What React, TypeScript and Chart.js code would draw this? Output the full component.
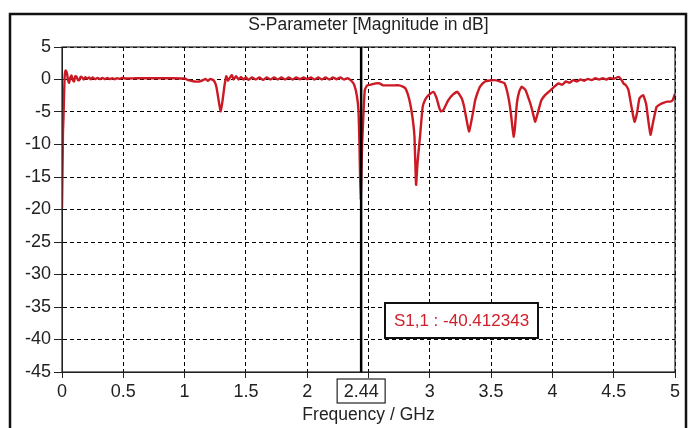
import React, { useEffect, useRef } from "react";
import { Chart, registerables } from "chart.js";

Chart.register(...registerables);

const chartTitle = "S-Parameter [Magnitude in dB]";
const xAxisTitle = "Frequency / GHz";
const markerFreq = 2.44;
const markerTickLabel = "2.44";
const markerValueLabel = "S1,1 : -40.412343";

const freqGHz = [
  0, 0.004, 0.008, 0.012, 0.016, 0.022, 0.03, 0.04, 0.05, 0.058, 0.068, 0.078, 0.088, 0.098, 0.108, 0.12, 0.13,
  0.14, 0.152, 0.165, 0.176, 0.19, 0.205, 0.22, 0.235, 0.25, 0.27, 0.29, 0.31, 0.33, 0.35, 0.37, 0.39, 0.41,
  0.43, 0.45, 0.47, 0.49, 0.52, 0.6, 0.7, 0.8, 0.9, 1.0, 1.03, 1.08, 1.12, 1.15, 1.17, 1.19, 1.21, 1.24, 1.26,
  1.28, 1.295, 1.31, 1.325, 1.34, 1.355, 1.37, 1.385, 1.4, 1.42, 1.44, 1.46, 1.48, 1.5, 1.52, 1.55, 1.58, 1.61,
  1.64, 1.67, 1.7, 1.73, 1.76, 1.79, 1.82, 1.85, 1.88, 1.91, 1.94, 1.97, 2.0, 2.03, 2.06, 2.09, 2.12, 2.15,
  2.18, 2.21, 2.24, 2.27, 2.3, 2.33, 2.36, 2.385, 2.405, 2.418, 2.426, 2.436, 2.448, 2.458, 2.47, 2.49, 2.52,
  2.56, 2.59, 2.62, 2.66, 2.7, 2.75, 2.78, 2.8, 2.82, 2.84, 2.86, 2.875, 2.888, 2.9, 2.92, 2.942, 2.965, 2.99,
  3.03, 3.056, 3.075, 3.09, 3.11, 3.15, 3.19, 3.225, 3.26, 3.28, 3.295, 3.32, 3.336, 3.355, 3.37, 3.39, 3.41,
  3.45, 3.49, 3.53, 3.57, 3.61, 3.64, 3.66, 3.675, 3.685, 3.695, 3.71, 3.73, 3.75, 3.78, 3.8, 3.825, 3.845,
  3.86, 3.88, 3.91, 3.94, 3.97, 4.01, 4.05, 4.08, 4.11, 4.14, 4.17, 4.2, 4.23, 4.26, 4.29, 4.32, 4.35, 4.38,
  4.41, 4.44, 4.47, 4.5, 4.54, 4.565, 4.58, 4.6, 4.62, 4.645, 4.67, 4.69, 4.71, 4.74, 4.765, 4.78, 4.8, 4.82,
  4.85, 4.88, 4.905, 4.935, 4.96, 4.98, 5.0,
];

const s11dB = [
  -19.8, -14, -8, -6, -3, 0.5, 1.4, 1.0, -0.2, -0.5, 0.3, 0.6, -0.1, -0.3, 0.5, 0.4, -0.1,
  -0.1, 0.4, 0.3, 0.0, 0.35, 0.1, 0.3, 0.05, 0.3, 0.05, 0.25, 0.05, 0.25, 0.05, 0.25, 0.05, 0.2,
  0.05, 0.2, 0.1, 0.25, 0.15, 0.2, 0.2, 0.2, 0.2, 0.15, -0.1, -0.3, -0.3, -0.1, 0.1, -0.2, 0.1, -0.2, -1.2,
  -3.5, -4.9, -3.2, -1.0, 0.5, -0.2, 0.3, 0.7, 0.0, 0.5, 0.0, 0.4, 0.0, 0.35, -0.05, 0.3, 0.0, 0.3,
  -0.05, 0.3, 0.0, 0.3, 0.0, 0.3, 0.0, 0.3, 0.0, 0.3, 0.05, 0.3, 0.05, 0.3, 0.0, 0.3, 0.0, 0.3,
  0.0, 0.3, 0.05, 0.3, 0.0, 0.2, -0.2, -0.9, -2.5, -4.7, -9.8, -18.5, -10, -5.7, -1.6, -0.9, -0.8,
  -0.6, -0.6, -0.9, -0.9, -0.9, -0.9, -1.1, -1.35, -2.2, -3.7, -6.0, -8.8, -16.2, -12.8, -8.8, -4.2, -3.0, -2.4,
  -1.9, -2.9, -4.2, -4.9, -4.7, -3.2, -2.3, -1.9, -2.9, -4.2, -5.7, -8.0, -6.7, -4.8, -3.2, -2.0, -1.1,
  -0.3, -0.15, -0.1, -0.3, -0.6, -2.6, -5.0, -7.5, -8.8, -7.3, -3.7, -1.8, -1.1, -1.6, -2.6, -4.0, -5.5,
  -6.5, -5.2, -3.2, -2.4, -1.9, -1.2, -0.6, -0.8, -0.3, -0.5, -0.1, -0.3, 0.0, -0.2, 0.1, -0.1, 0.2, 0.0,
  0.2, 0.0, 0.25, 0.1, 0.4, -0.1, -0.6, -0.9, -1.6, -4.2, -6.5, -5.2, -2.9, -2.4, -3.8, -6.0, -8.5, -6.7,
  -4.2, -3.8, -3.6, -3.4, -3.4, -3.2, -2.2,
];

const xMin = 0;
const xMax = 5;
const xStep = 0.5;
const yMin = -45;
const yMax = 5;
const yStep = 5;

const FONT = "'Liberation Sans', Arial, sans-serif";

const decorations = {
  id: "decorations",
  afterDraw(chart: any) {
    const { ctx, chartArea } = chart;
    const xs = chart.scales.x;
    const { left, right, top, bottom } = chartArea;
    ctx.save();

    // outer frame
    ctx.strokeStyle = "#111";
    ctx.lineWidth = 2.5;
    ctx.strokeRect(10, 14, 676, 430);

    // plot border
    ctx.lineWidth = 1.2;
    ctx.strokeStyle = "#222";
    ctx.strokeRect(left, top, right - left, bottom - top);

    // title
    ctx.fillStyle = "#222";
    ctx.font = `17.5px ${FONT}`;
    ctx.textAlign = "center";
    ctx.textBaseline = "middle";
    ctx.fillText(chartTitle, (left + right) / 2, 25);

    // x axis title
    ctx.fillText(xAxisTitle, (left + right) / 2, 415);

    // marker line
    const mx = xs.getPixelForValue(markerFreq);
    ctx.strokeStyle = "#000";
    ctx.lineWidth = 2.5;
    ctx.beginPath();
    ctx.moveTo(mx, top);
    ctx.lineTo(mx, bottom);
    ctx.stroke();

    // marker tick label box
    ctx.font = `18px ${FONT}`;
    const bw = 48;
    const bh = 24;
    const bx = mx - 24;
    const by = 379;
    ctx.fillStyle = "#fff";
    ctx.fillRect(bx, by, bw, bh);
    ctx.lineWidth = 1.2;
    ctx.strokeStyle = "#222";
    ctx.strokeRect(bx, by, bw, bh);
    ctx.fillStyle = "#222";
    ctx.fillText(markerTickLabel, bx + bw / 2, by + bh / 2 + 1);

    // marker value box
    const vx = 385;
    const vy = 303;
    const vw = 153;
    const vh = 35;
    ctx.fillStyle = "#fff";
    ctx.fillRect(vx, vy, vw, vh);
    ctx.lineWidth = 2;
    ctx.strokeStyle = "#111";
    ctx.strokeRect(vx, vy, vw, vh);
    ctx.fillStyle = "#d0202c";
    ctx.font = `17px ${FONT}`;
    ctx.fillText(markerValueLabel, vx + vw / 2, vy + vh / 2 + 1);

    ctx.restore();
  },
};

export default function App() {
  const ref = useRef<HTMLCanvasElement>(null);

  useEffect(() => {
    if (!ref.current) return;
    const points = freqGHz.map((f, i) => ({ x: f, y: s11dB[i] }));
    const chart = new Chart(ref.current, {
      type: "line",
      data: {
        datasets: [
          {
            data: points,
            borderColor: "#cc1a24",
            borderWidth: 2.4,
            pointRadius: 0,
            tension: 0.15,
            fill: false,
          },
        ],
      },
      options: {
        responsive: false,
        animation: false,
        devicePixelRatio: 1,
        layout: { padding: { top: 47, right: 14, left: 0, bottom: 0 } },
        plugins: {
          legend: { display: false },
          tooltip: { enabled: false },
          title: { display: false },
        },
        scales: {
          x: {
            type: "linear",
            min: xMin,
            max: xMax,
            afterFit: (s: any) => {
              s.height = 56;
            },
            ticks: {
              stepSize: xStep,
              autoSkip: false,
              maxRotation: 0,
              color: "#222",
              font: { family: FONT, size: 18 },
              padding: 3,
              callback: (v: any) => {
                const n = Number(v);
                if (Math.abs(n - 2.5) < 1e-6) return "";
                return String(Math.round(n * 10) / 10);
              },
            },
            grid: { color: "#000", lineWidth: 1, tickLength: 6, tickColor: "#222" },
            border: { display: true, color: "#222", width: 1, dash: [4, 3] },
          },
          y: {
            type: "linear",
            min: yMin,
            max: yMax,
            afterFit: (s: any) => {
              s.width = 62;
            },
            ticks: {
              stepSize: yStep,
              autoSkip: false,
              color: "#222",
              font: { family: FONT, size: 18 },
              padding: 3,
            },
            grid: { color: "#000", lineWidth: 1, tickLength: 8, tickColor: "#222" },
            border: { display: true, color: "#222", width: 1, dash: [4, 3] },
          },
        },
      },
      plugins: [decorations],
    });
    return () => chart.destroy();
  }, []);

  return (
    <div style={{ position: "absolute", left: 0, top: 0, width: 689, height: 428, background: "#fff" }}>
      <canvas ref={ref} width={689} height={428} style={{ display: "block" }} />
    </div>
  );
}
